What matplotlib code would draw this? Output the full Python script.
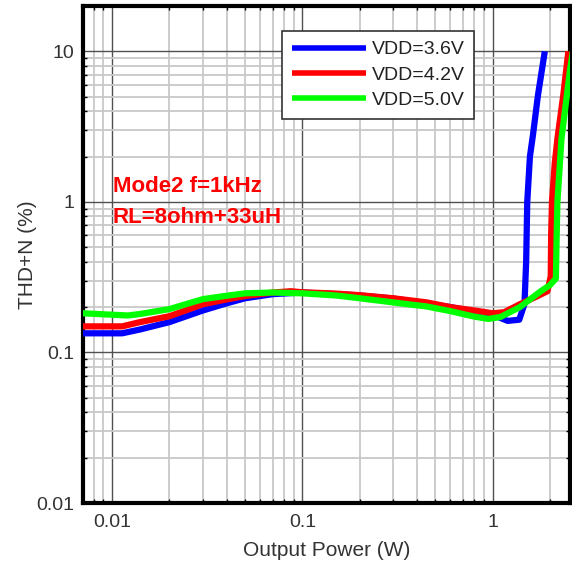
"""
THD+N versus output power, three supply voltages
"""

import matplotlib
matplotlib.use('Agg')
import matplotlib.pyplot as plt
from matplotlib.ticker import LogLocator, FixedLocator, FuncFormatter, NullFormatter

plt.rcParams['font.family'] = ['Liberation Sans', 'DejaVu Sans']

# Output power (W) and THD+N (%) for each supply
power_36 = [0.007, 0.0113, 0.014, 0.02, 0.03, 0.04, 0.05, 0.07, 0.1, 0.15, 0.2, 0.3, 0.45,
            0.6, 0.8, 1.0, 1.2, 1.38, 1.47, 1.50, 1.52, 1.57, 1.63, 1.73, 1.88]
thd_36 = [0.134, 0.134, 0.142, 0.159, 0.19, 0.212, 0.229, 0.244, 0.25, 0.244, 0.239, 0.228, 0.212,
          0.2, 0.187, 0.178, 0.162, 0.165, 0.21, 0.4, 1.0, 2.0, 2.8, 5.1, 10.0]

power_42 = [0.007, 0.0113, 0.014, 0.02, 0.03, 0.04, 0.05, 0.07, 0.087, 0.1, 0.15, 0.2, 0.3,
            0.45, 0.6, 0.8, 1.0, 1.15, 1.39, 1.7, 1.94, 2.02, 2.03, 2.05, 2.12, 2.19, 2.35, 2.5]
thd_42 = [0.149, 0.149, 0.159, 0.174, 0.209, 0.225, 0.237, 0.25, 0.255, 0.251, 0.246, 0.24, 0.229,
          0.215, 0.2, 0.19, 0.182, 0.185, 0.209, 0.235, 0.255, 0.32, 0.6, 1.0, 1.8, 2.63, 5.1, 10.0]

power_50 = [0.007, 0.0121, 0.014, 0.02, 0.03, 0.04, 0.05, 0.07, 0.1, 0.15, 0.2, 0.3, 0.45,
            0.6, 0.8, 0.95, 1.1, 1.39, 1.79, 2.0, 2.15, 2.17, 2.19, 2.3, 2.45, 2.55, 2.7]
thd_50 = [0.182, 0.176, 0.18, 0.194, 0.226, 0.238, 0.247, 0.25, 0.247, 0.239, 0.229, 0.215, 0.202,
          0.188, 0.173, 0.167, 0.172, 0.2, 0.255, 0.28, 0.31, 0.6, 1.0, 2.63, 5.0, 7.5, 12.0]

series_labels = ['VDD=3.6V', 'VDD=4.2V', 'VDD=5.0V']
series_colors = ['#0000ff', '#ff0000', '#00ff00']

x_ticks = [0.01, 0.1, 1]
y_ticks = [0.01, 0.1, 1, 10]

fig = plt.figure(figsize=(5.72, 5.62), dpi=100)
ax = fig.add_axes([83 / 572, 1 - 503 / 562, 487 / 572, 497 / 562])

for p, t, lab, col in zip([power_36, power_42, power_50], [thd_36, thd_42, thd_50],
                          series_labels, series_colors):
    ax.plot(p, t, color=col, lw=4.5, label=lab, solid_capstyle='butt',
            solid_joinstyle='round', zorder=3)

ax.set_xscale('log')
ax.set_yscale('log')
ax.set_xlim(0.00703, 2.55)
ax.set_ylim(0.01, 20)

ax.xaxis.set_major_locator(FixedLocator(x_ticks))
ax.yaxis.set_major_locator(FixedLocator(y_ticks))
ax.xaxis.set_minor_locator(LogLocator(base=10, subs=range(2, 10), numticks=20))
ax.yaxis.set_minor_locator(LogLocator(base=10, subs=range(2, 10), numticks=20))
fmt = FuncFormatter(lambda v, pos: '%g' % v)
ax.xaxis.set_major_formatter(fmt)
ax.yaxis.set_major_formatter(fmt)
ax.xaxis.set_minor_formatter(NullFormatter())
ax.yaxis.set_minor_formatter(NullFormatter())

ax.grid(which='major', color='#505050', lw=1.0, zorder=1)
ax.grid(which='minor', color='#c8c8c8', lw=1.3, zorder=0)
ax.set_axisbelow(True)

ax.tick_params(which='both', direction='in', top=True, right=True, color='black',
               labelsize=14, labelcolor='#333333')
ax.tick_params(which='major', length=0)
ax.tick_params(axis='x', which='major', pad=8)
ax.tick_params(axis='y', which='major', pad=6)
ax.tick_params(which='minor', length=3, width=1)

for s in ax.spines.values():
    s.set_linewidth(3)
    s.set_color('black')

ax.set_xlabel('Output Power (W)', fontsize=15, color='#333333', labelpad=7)
ax.set_ylabel('THD+N (%)', fontsize=15, color='#333333', labelpad=0)

ax.text(0.0101, 1.26, 'Mode2 f=1kHz', color='#ff0000', fontsize=16, fontweight='bold',
        va='center', ha='left', zorder=4)
ax.text(0.0101, 0.79, 'RL=8ohm+33uH', color='#ff0000', fontsize=16, fontweight='bold',
        va='center', ha='left', zorder=4)

leg = ax.legend(loc='upper left', bbox_to_anchor=(0.4086, 0.9497), fontsize=14,
                frameon=True, fancybox=False, edgecolor='#333333', framealpha=1,
                handlelength=3.8, handletextpad=0.3, labelspacing=0.4, borderpad=0.5,
                borderaxespad=0)
leg.get_frame().set_linewidth(1.2)
leg.set_zorder(5)
for line in leg.get_lines():
    line.set_linewidth(4)
for txt in leg.get_texts():
    txt.set_color('#222222')

fig.savefig('out.png', dpi=100)
